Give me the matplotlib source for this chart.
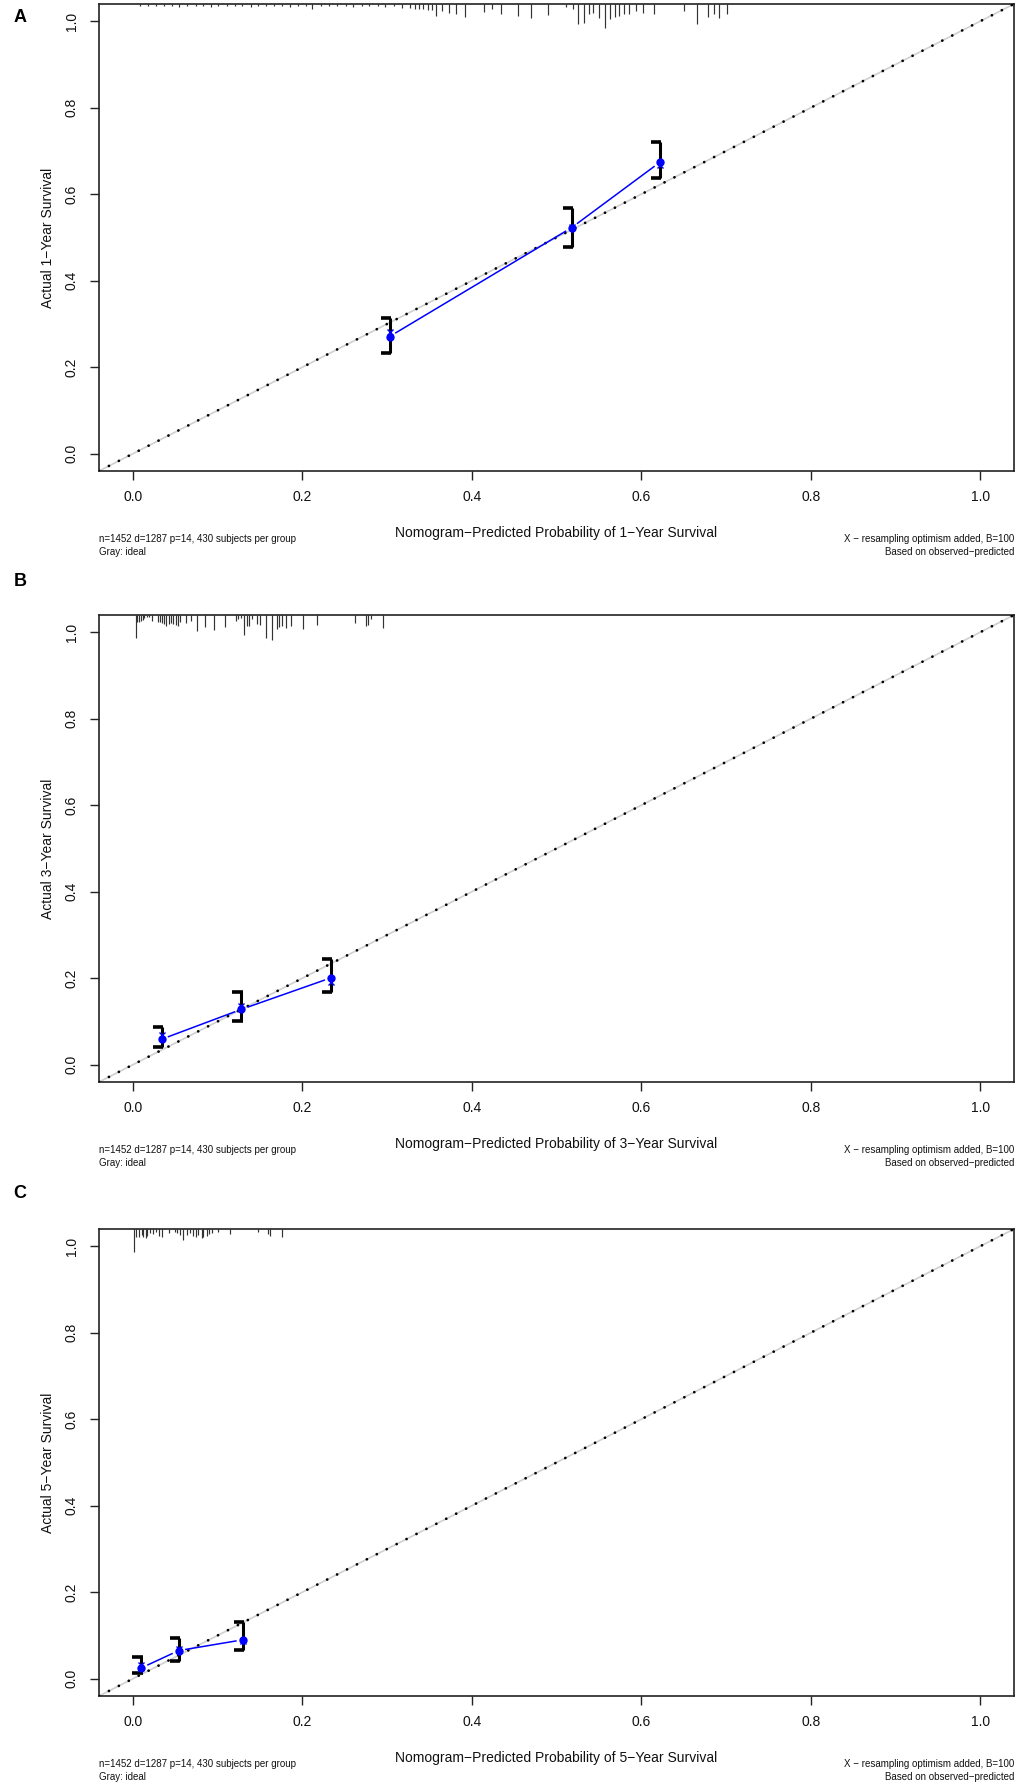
import numpy as np
import matplotlib
matplotlib.use("Agg")
import matplotlib.pyplot as plt
from matplotlib.collections import LineCollection

plt.rcParams["font.family"] = ["Liberation Sans", "DejaVu Sans"]

W, H, DPI = 1020, 1786, 100

# ---- data ------------------------------------------------------------------
panel_letters = ["A", "B", "C"]
years = ["1", "3", "5"]

# mean predicted, observed (KM), bias-corrected, CI lower/upper per group
pred_a = [0.303, 0.518, 0.622]
obs_a = [0.271, 0.523, 0.674]
corr_a = [0.281, 0.525, 0.668]
lo_a = [0.234, 0.478, 0.637]
hi_a = [0.313, 0.569, 0.720]

pred_b = [0.034, 0.128, 0.234]
obs_b = [0.059, 0.128, 0.201]
corr_b = [0.069, 0.136, 0.192]
lo_b = [0.042, 0.102, 0.169]
hi_b = [0.088, 0.168, 0.245]

pred_c = [0.010, 0.054, 0.130]
obs_c = [0.025, 0.065, 0.090]
corr_c = [0.032, 0.069, 0.088]
lo_c = [0.014, 0.042, 0.067]
hi_c = [0.051, 0.093, 0.130]

# distribution of predicted values (spikes hanging from the top)
rug_a_x = [0.008, 0.018, 0.027, 0.037, 0.046, 0.055, 0.064, 0.074, 0.083, 0.092,
           0.101, 0.111, 0.120, 0.129, 0.139, 0.148, 0.157, 0.167, 0.176, 0.185,
           0.195, 0.204, 0.212, 0.222, 0.232, 0.241, 0.251, 0.260, 0.270, 0.279,
           0.289, 0.298, 0.308, 0.318, 0.327, 0.333, 0.338, 0.343, 0.348, 0.353,
           0.358, 0.365, 0.373, 0.381, 0.392, 0.415, 0.424, 0.434, 0.455, 0.470,
           0.490, 0.511, 0.519, 0.525, 0.532, 0.538, 0.543, 0.550, 0.557, 0.563,
           0.569, 0.574, 0.580, 0.586, 0.594, 0.602, 0.615, 0.651, 0.666, 0.679,
           0.686, 0.692, 0.701]
rug_a_freq = [1.5, 1.5, 2, 1.5, 2, 3, 1.5, 2, 1.5, 2.5,
              2, 1.5, 2, 2, 3, 1.5, 2, 2, 1.5, 3,
              2, 2, 5, 2, 2, 1.5, 2, 3, 2, 2,
              2, 3, 2, 4, 4, 5, 5, 5, 6, 6,
              12, 7, 8.5, 10, 13, 7.5, 5, 9.5, 12, 13.6,
              11, 3.4, 5, 20, 19, 10, 8.5, 13.6, 24, 15,
              13, 12, 10, 9.5, 7, 8.5, 9.5, 7, 20, 13,
              10, 13.6, 10]

rug_b_x = [0.0031, 0.0051, 0.0071, 0.0091, 0.0114, 0.0134, 0.0161, 0.0189, 0.0228,
           0.0291, 0.0319, 0.0342, 0.0366, 0.0394, 0.0421, 0.0449, 0.0476, 0.0504,
           0.0527, 0.0555, 0.0622, 0.0685, 0.0752, 0.0850, 0.0952, 0.1082, 0.1212,
           0.1244, 0.1271, 0.1311, 0.1342, 0.1374, 0.1401, 0.1468, 0.1499, 0.1570,
           0.1637, 0.1696, 0.1727, 0.1759, 0.1802, 0.1869, 0.2003, 0.2168, 0.2625,
           0.2751, 0.2779, 0.2806, 0.2948]
rug_b_freq = [23, 7.3, 6.7, 5.7, 4.7, 3.3, 2.3, 1.7, 5.7,
              6.7, 7.3, 8, 9, 11.3, 9, 8, 9, 10,
              11.3, 6.7, 8, 5.7, 15.7, 12.3, 14.7, 12.3, 5.7,
              4, 3.3, 20, 10.7, 11.3, 4, 9, 10, 23,
              24.7, 14, 12.3, 10.7, 13.3, 10.7, 14, 10, 8,
              10.7, 10, 4, 13.3]

rug_c_x = [0.0016, 0.0039, 0.0075, 0.0102, 0.0122, 0.0154, 0.0169, 0.0201, 0.0240,
           0.0272, 0.0307, 0.0347, 0.0429, 0.0496, 0.0524, 0.0555, 0.0587, 0.0634,
           0.0673, 0.0713, 0.0744, 0.0772, 0.0811, 0.0831, 0.0870, 0.0902, 0.0930,
           0.1008, 0.1146, 0.1481, 0.1599, 0.1618, 0.1756]
rug_c_freq = [23, 7.7, 8.3, 6, 7.7, 9.3, 6.7, 4.3, 5.3,
              3.3, 6.7, 7.7, 4.3, 2.7, 4.3, 6, 11, 6,
              4.3, 6.7, 7.7, 6, 9.3, 7.7, 6.7, 5.3, 4.3,
              3.3, 5.3, 3.3, 5.3, 6.7, 7.7]

panels = [
    (pred_a, obs_a, corr_a, lo_a, hi_a, rug_a_x, rug_a_freq),
    (pred_b, obs_b, corr_b, lo_b, hi_b, rug_b_x, rug_b_freq),
    (pred_c, obs_c, corr_c, lo_c, hi_c, rug_c_x, rug_c_freq),
]

foot_left = ["n=1452 d=1287 p=14, 430 subjects per group", "Gray: ideal"]
foot_right = ["X \u2212 resampling optimism added, B=100",
              "Based on observed\u2212predicted"]

# ---- layout (pixels) ---------------------------------------------------------
BOX_L, BOX_R = 99, 1014
BOX_TOPS = [4, 615, 1229]
BOX_H = 467
LIM = (-0.04, 1.04)
PX_PER_UNIT_Y = BOX_H / (LIM[1] - LIM[0])


def fx(x):
    return x / W


def fy(y):
    return 1 - y / H


def gapped(ax, xs, ys, gap=6.5):
    """Segments between points with small gaps, like R's type='b'."""
    pts = ax.transData.transform(np.column_stack([xs, ys]))
    inv = ax.transData.inverted()
    segs = []
    for p, q in zip(pts[:-1], pts[1:]):
        d = q - p
        u = d / np.hypot(*d)
        segs.append(inv.transform([p + u * gap, q - u * gap]))
    return segs


fig = plt.figure(figsize=(W / DPI, H / DPI), dpi=DPI)

for i, (pred, obs, corr, lo, hi, rx, rf) in enumerate(panels):
    top = BOX_TOPS[i]
    bot = top + BOX_H
    ax = fig.add_axes([fx(BOX_L), fy(bot), fx(BOX_R - BOX_L), BOX_H / H])
    ax.set_xlim(*LIM)
    ax.set_ylim(*LIM)

    for s in ax.spines.values():
        s.set_linewidth(1.2)
        s.set_color("#222222")

    ticks = [0.0, 0.2, 0.4, 0.6, 0.8, 1.0]
    ax.set_xticks(ticks)
    ax.set_yticks(ticks)
    ax.set_xticklabels([f"{t:.1f}" for t in ticks])
    ax.set_yticklabels([f"{t:.1f}" for t in ticks], rotation=90, va="center")
    ax.tick_params(direction="out", length=6.5, width=1, color="#222222",
                   labelsize=10, labelcolor="#111111")
    ax.tick_params(axis="x", pad=7)
    ax.tick_params(axis="y", pad=8)

    # spikes of predicted distribution
    rf = np.asarray(rf)
    ax.vlines(rx, LIM[1] - rf / PX_PER_UNIT_Y, LIM[1], color="#333333",
              linewidth=0.85)

    # ideal line: gray solid plus black dots
    ax.plot(LIM, LIM, color="#d0d0d0", linewidth=1.2, zorder=2)
    ax.plot(LIM, LIM, color="black", linewidth=2.0,
            linestyle=(0, (0.01, 4.0)), dash_capstyle="round", zorder=3)

    # error bars, caps drawn as "]"
    cap_l, cap_r = 0.0105, 0.0015
    for x, a, b in zip(pred, lo, hi):
        ax.plot([x, x], [a, b], color="black", linewidth=2.2, zorder=4,
                solid_capstyle="butt")
        ax.plot([x - cap_l, x + cap_r], [a, a], color="black", linewidth=2.6,
                zorder=4, solid_capstyle="butt")
        ax.plot([x - cap_l, x + cap_r], [b, b], color="black", linewidth=2.6,
                zorder=4, solid_capstyle="butt")

    ax.add_collection(LineCollection(gapped(ax, pred, obs), colors="#0000ff",
                                     linewidths=1.1, zorder=5))
    ax.plot(pred, obs, "o", color="#0000ff", markersize=5, zorder=6)
    ax.plot(pred, corr, "x", color="#0000ff", markersize=5, markeredgewidth=1.0,
            zorder=7)

    # texts
    fig.text(fx(48), fy((top + bot) / 2), f"Actual {years[i]}\u2212Year Survival",
             rotation=90, ha="center", va="center", fontsize=10, color="#111111")
    fig.text(fx((BOX_L + BOX_R) / 2), fy(bot + 62),
             f"Nomogram\u2212Predicted Probability of {years[i]}\u2212Year Survival",
             ha="center", va="center", fontsize=10, color="#111111")
    for k, (tl, tr) in enumerate(zip(foot_left, foot_right)):
        yk = bot + 68 + 13 * k
        fig.text(fx(BOX_L), fy(yk), tl, ha="left", va="center", fontsize=7,
                 color="#111111")
        fig.text(fx(BOX_R), fy(yk), tr, ha="right", va="center", fontsize=7,
                 color="#111111")

letter_y = [18, 582, 1193]
for letter, ly in zip(panel_letters, letter_y):
    fig.text(fx(20), fy(ly), letter, ha="center", va="center", fontsize=13,
             fontweight="bold")

fig.savefig("out.png", dpi=DPI, facecolor="white")
